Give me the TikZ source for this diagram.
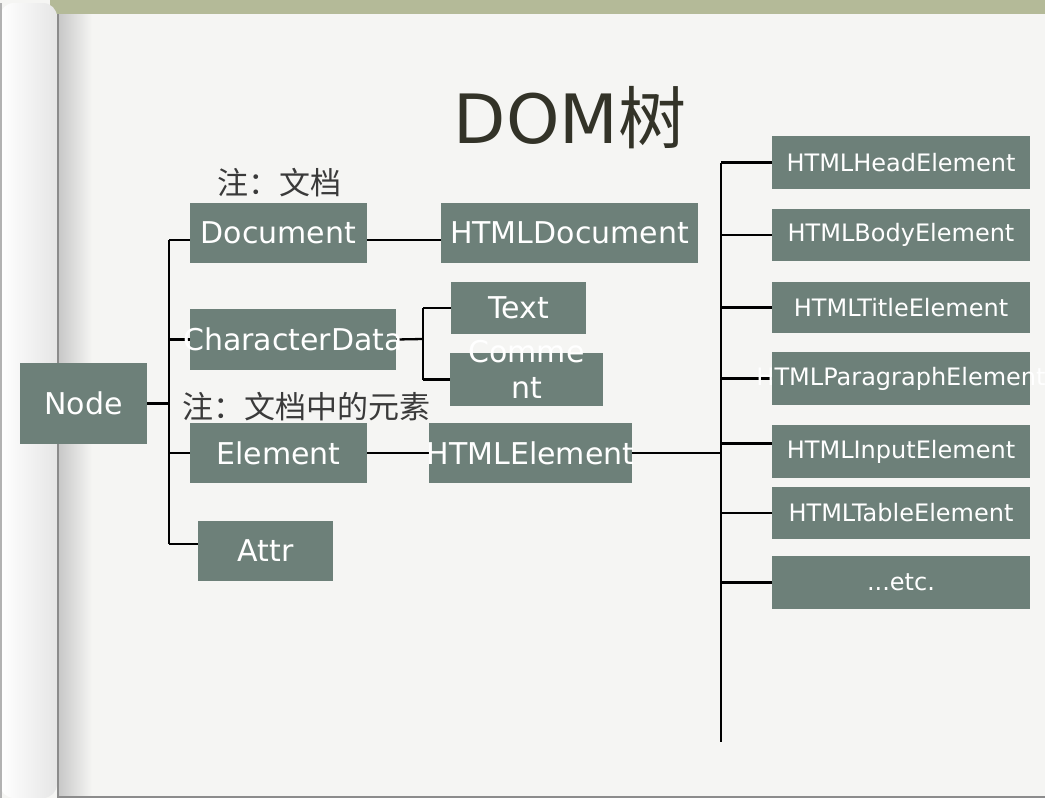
\documentclass[tikz,border=0pt]{standalone}
\usepackage{fontspec}
\setmainfont{DejaVu Sans}
\newfontfamily\cjk{Noto Sans CJK SC}
\usepackage{tikz}
\usepackage{xcolor}
\definecolor{boxgray}{RGB}{109,128,121}
\definecolor{pagec}{RGB}{245,245,243}
\definecolor{stripc}{RGB}{180,186,152}
\definecolor{inkdark}{RGB}{51,51,40}
\definecolor{notegray}{RGB}{58,58,58}
\pgfdeclarelayer{paper}
\pgfdeclarelayer{wires}
\pgfsetlayers{paper,wires,main}
\newcommand{\boxtext}[1]{\makebox[0pt]{#1}}

\begin{document}
\begin{tikzpicture}[x=1pt, y=-1pt,
  tbox/.style={fill=boxgray, text=white, inner sep=0pt, font=\fontsize{30}{36}\selectfont},
  sbox/.style={tbox, minimum width=258, font=\fontsize{24}{29}\selectfont},
  wire/.style={line width=2.3pt, black},
  note/.style={font=\cjk\fontsize{31}{36}\selectfont, text=notegray, inner sep=0pt}]
  \useasboundingbox (0,0) rectangle (1045,798);

  % Paper with curled left edge
  \begin{pgfonlayer}{paper}
    \fill[pagec] (0,0) rectangle (1045,798);
    \fill[stripc] (50,0) rectangle (1045,14);
    \shade[left color=black!22, right color=pagec] (58,14) rectangle (92,796);
    \shade[left color=white, right color=black!10, rounded corners=14]
      (0,3) -- (57,3) -- (57,798) -- (0,798) -- cycle;
    \draw[black!30, line width=1.5pt] (0.75,3) -- (0.75,798);
    \draw[black!45, line width=1.5pt] (58,14) -- (58,798);
    \draw[black!45, line width=2pt] (58,797) -- (1045,797);
  \end{pgfonlayer}

  % Title
  \node[font=\fontsize{68}{72}\selectfont, text=inkdark] (title) at (570,118) {DOM{\cjk 树}};

  % Left part of the tree
  \node[tbox, minimum width=127, minimum height=81] (node) at (83.5,403.5) {\boxtext{Node}};
  \node[tbox, minimum width=177, minimum height=60] (doc) at (278.5,233) {\boxtext{Document}};
  \node[tbox, minimum width=257, minimum height=60] (htmldoc) at (569.5,233) {\boxtext{HTMLDocument}};
  \node[tbox, minimum width=206, minimum height=61] (chardata) at (293,339.5) {\boxtext{CharacterData}};
  \node[tbox, minimum width=135, minimum height=52] (text) at (518.5,308) {\boxtext{Text}};
  \node[tbox, minimum width=153, minimum height=53] (comment) at (526.5,379.5)
    {\boxtext{\smash{\begin{tabular}{@{}c@{}}Comme\\nt\end{tabular}}}};
  \node[tbox, minimum width=177, minimum height=60] (elem) at (278.5,453) {\boxtext{Element}};
  \node[tbox, minimum width=135, minimum height=60] (attr) at (265.5,551) {\boxtext{Attr}};
  \node[tbox, minimum width=203, minimum height=60] (htmlel) at (530.5,453) {\boxtext{HTMLElement}};

  % Notes
  \node[note] (note1) at (279,183) {注：文档};
  \node[note] (note2) at (306,407) {注：文档中的元素};

  % Right column
  \node[sbox, minimum height=53] (head)  at (901,162.5) {\boxtext{HTMLHeadElement}};
  \node[sbox, minimum height=52] (body)  at (901,235)   {\boxtext{HTMLBodyElement}};
  \node[sbox, minimum height=51] (title2) at (901,307.5) {\boxtext{HTMLTitleElement}};
  \node[sbox, minimum height=53] (para)  at (901,378.5) {\boxtext{HTMLParagraphElement}};
  \node[sbox, minimum height=53] (input) at (901,451.5) {\boxtext{HTMLInputElement}};
  \node[sbox, minimum height=52] (table) at (901,513)   {\boxtext{HTMLTableElement}};
  \node[sbox, minimum height=53] (etc)   at (901,582.5) {\boxtext{...etc.}};

  % Connectors
  \coordinate (ltop) at (169,240);
  \coordinate (lbot) at (169,544);
  \coordinate (csplit) at (423,339);
  \coordinate (rtop) at (721,162.5);
  \coordinate (rbot) at (721,742);
  \begin{pgfonlayer}{wires}
    \draw[wire] (ltop) -- (lbot);
    \draw[wire] (node.east) -- (lbot |- node.east);
    \draw[wire] (ltop) -- ([yshift=-7pt]doc.west);
    \draw[wire] ([yshift=-7pt]doc.east) -- ([yshift=-7pt]htmldoc.west);
    \foreach \n in {chardata,elem}
      \draw[wire] (lbot |- \n.west) -- (\n.west);
    \draw[wire] ([yshift=7pt]attr.west) -| (lbot);
    \draw[wire] (chardata.east) -- (csplit);
    \draw[wire] (csplit |- text.west) -- (csplit |- comment.west);
    \foreach \n in {text,comment}
      \draw[wire] (csplit |- \n.west) -- (\n.west);
    \draw[wire] (elem.east) -- (htmlel.west);
    \draw[wire] (htmlel.east) -- (rbot |- htmlel.east);
    \draw[wire] (rtop) -- (rbot);
    \foreach \n in {head,body,title2,para,table,etc}
      \draw[wire] (rbot |- \n.west) -- (\n.west);
    \draw[wire] ([yshift=8pt]input.west) -| (rbot);
  \end{pgfonlayer}
\end{tikzpicture}
\end{document}
